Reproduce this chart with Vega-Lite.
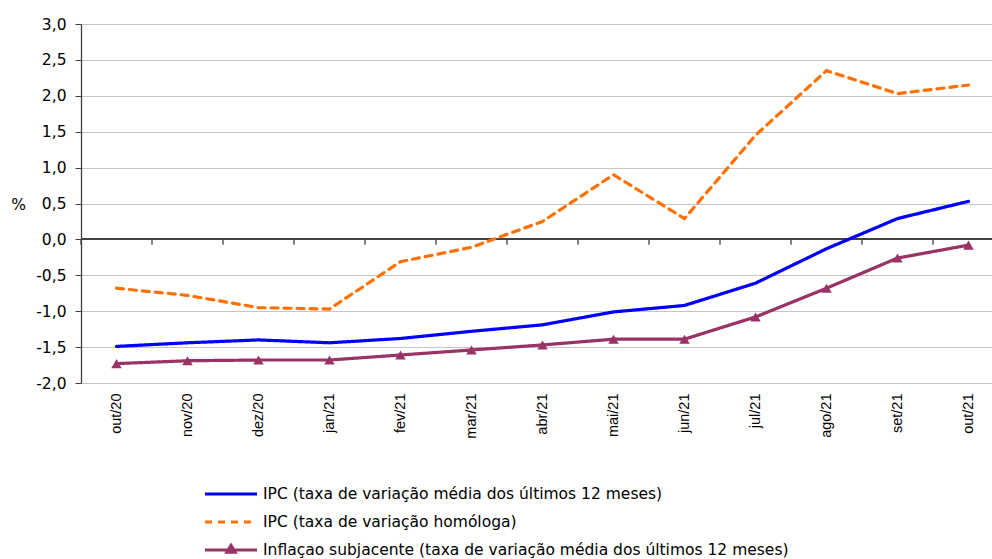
{
  "$schema": "https://vega.github.io/schema/vega-lite/v6.json",
  "autosize": {"type": "none"},
  "padding": {"left": 81, "top": 24, "right": 0, "bottom": 176},
  "width": 911,
  "height": 359,
  "background": "white",
  "config": {
    "font": "DejaVu Sans",
    "view": {"stroke": null},
    "locale": {"number": {"decimal": ",", "thousands": ".", "grouping": [3], "currency": ["", " €"], "minus": "-"}}
  },
  "data": {"values": [
    {"month": "out/20", "series": "IPC (taxa de variação média dos últimos 12 meses)", "value": -1.49},
    {"month": "nov/20", "series": "IPC (taxa de variação média dos últimos 12 meses)", "value": -1.44},
    {"month": "dez/20", "series": "IPC (taxa de variação média dos últimos 12 meses)", "value": -1.40},
    {"month": "jan/21", "series": "IPC (taxa de variação média dos últimos 12 meses)", "value": -1.44},
    {"month": "fev/21", "series": "IPC (taxa de variação média dos últimos 12 meses)", "value": -1.38},
    {"month": "mar/21", "series": "IPC (taxa de variação média dos últimos 12 meses)", "value": -1.28},
    {"month": "abr/21", "series": "IPC (taxa de variação média dos últimos 12 meses)", "value": -1.19},
    {"month": "mai/21", "series": "IPC (taxa de variação média dos últimos 12 meses)", "value": -1.01},
    {"month": "jun/21", "series": "IPC (taxa de variação média dos últimos 12 meses)", "value": -0.92},
    {"month": "jul/21", "series": "IPC (taxa de variação média dos últimos 12 meses)", "value": -0.61},
    {"month": "ago/21", "series": "IPC (taxa de variação média dos últimos 12 meses)", "value": -0.13},
    {"month": "set/21", "series": "IPC (taxa de variação média dos últimos 12 meses)", "value": 0.29},
    {"month": "out/21", "series": "IPC (taxa de variação média dos últimos 12 meses)", "value": 0.53},
    {"month": "out/20", "series": "IPC (taxa de variação homóloga)", "value": -0.68},
    {"month": "nov/20", "series": "IPC (taxa de variação homóloga)", "value": -0.78},
    {"month": "dez/20", "series": "IPC (taxa de variação homóloga)", "value": -0.95},
    {"month": "jan/21", "series": "IPC (taxa de variação homóloga)", "value": -0.97},
    {"month": "fev/21", "series": "IPC (taxa de variação homóloga)", "value": -0.31},
    {"month": "mar/21", "series": "IPC (taxa de variação homóloga)", "value": -0.11},
    {"month": "abr/21", "series": "IPC (taxa de variação homóloga)", "value": 0.25},
    {"month": "mai/21", "series": "IPC (taxa de variação homóloga)", "value": 0.90},
    {"month": "jun/21", "series": "IPC (taxa de variação homóloga)", "value": 0.29},
    {"month": "jul/21", "series": "IPC (taxa de variação homóloga)", "value": 1.45},
    {"month": "ago/21", "series": "IPC (taxa de variação homóloga)", "value": 2.35},
    {"month": "set/21", "series": "IPC (taxa de variação homóloga)", "value": 2.03},
    {"month": "out/21", "series": "IPC (taxa de variação homóloga)", "value": 2.15},
    {"month": "out/20", "series": "Inflaçao subjacente (taxa de variação média dos últimos 12 meses)", "value": -1.73},
    {"month": "nov/20", "series": "Inflaçao subjacente (taxa de variação média dos últimos 12 meses)", "value": -1.69},
    {"month": "dez/20", "series": "Inflaçao subjacente (taxa de variação média dos últimos 12 meses)", "value": -1.68},
    {"month": "jan/21", "series": "Inflaçao subjacente (taxa de variação média dos últimos 12 meses)", "value": -1.68},
    {"month": "fev/21", "series": "Inflaçao subjacente (taxa de variação média dos últimos 12 meses)", "value": -1.61},
    {"month": "mar/21", "series": "Inflaçao subjacente (taxa de variação média dos últimos 12 meses)", "value": -1.54},
    {"month": "abr/21", "series": "Inflaçao subjacente (taxa de variação média dos últimos 12 meses)", "value": -1.47},
    {"month": "mai/21", "series": "Inflaçao subjacente (taxa de variação média dos últimos 12 meses)", "value": -1.39},
    {"month": "jun/21", "series": "Inflaçao subjacente (taxa de variação média dos últimos 12 meses)", "value": -1.39},
    {"month": "jul/21", "series": "Inflaçao subjacente (taxa de variação média dos últimos 12 meses)", "value": -1.08},
    {"month": "ago/21", "series": "Inflaçao subjacente (taxa de variação média dos últimos 12 meses)", "value": -0.68},
    {"month": "set/21", "series": "Inflaçao subjacente (taxa de variação média dos últimos 12 meses)", "value": -0.26},
    {"month": "out/21", "series": "Inflaçao subjacente (taxa de variação média dos últimos 12 meses)", "value": -0.08}
  ]},
  "layer": [
    {
      "mark": {"type": "rule", "color": "#404040", "strokeWidth": 1.3},
      "encoding": {"y": {"datum": 0, "type": "quantitative",
        "scale": {"domain": [-2, 3], "nice": false, "zero": false},
        "axis": {"title": "%", "titleAngle": 0, "titleFontSize": 15.5, "titleFontWeight": "normal", "titleColor": "#000000", "titleX": -63, "titleY": 180, "titleAlign": "center", "titleBaseline": "middle",
          "values": [-2, -1.5, -1, -0.5, 0, 0.5, 1, 1.5, 2, 2.5, 3], "tickCount": 30, "format": ".1f", "labelFontSize": 15.5, "labelColor": "#000000", "labelPadding": 9, "labelOverlap": false, "tickSize": 6, "tickColor": "#404040", "domainColor": "#404040", "domainWidth": 1.3,
          "grid": true, "gridColor": "#8a8a8a", "gridDash": [1, 1], "gridWidth": 1}}}
    },
    {
      "transform": [{"filter": "datum.series === 'IPC (taxa de variação homóloga)'"}],
      "mark": {"type": "rule", "color": "#404040", "strokeWidth": 1.3},
      "encoding": {
        "x": {"field": "month", "type": "ordinal", "bandPosition": 0},
        "y": {"datum": 0, "type": "quantitative"},
        "y2": {"datum": -0.075}
      }
    },
    {
      "mark": {"type": "line", "strokeWidth": 3.2, "strokeCap": "round"},
      "encoding": {
        "x": {
          "field": "month", "type": "ordinal",
          "scale": {"type": "band", "domain": ["out/20","nov/20","dez/20","jan/21","fev/21","mar/21","abr/21","mai/21","jun/21","jul/21","ago/21","set/21","out/21"], "range": [0, 923], "paddingInner": 0, "paddingOuter": 0},
          "axis": {"title": null, "labelAngle": -90, "labelFont": "Liberation Sans", "labelFontSize": 14.5, "labelColor": "#000000", "labelPadding": 10, "ticks": false, "tickSize": 0, "domain": false, "grid": false, "labelAlign": "right", "labelBaseline": "middle"}
        },
        "y": {
          "field": "value", "type": "quantitative"
        },
        "color": {
          "field": "series", "type": "nominal",
          "scale": {"domain": ["IPC (taxa de variação média dos últimos 12 meses)", "IPC (taxa de variação homóloga)", "Inflaçao subjacente (taxa de variação média dos últimos 12 meses)"], "range": ["#0000FF", "#FF7000", "#993366"]},
          "legend": {
            "title": null, "orient": "none", "legendX": 138, "legendY": 458, "direction": "vertical",
            "symbolType": "M-2.6,0H2.6", "symbolSize": 400, "symbolStrokeWidth": 3.2, "labelFontSize": 15.5, "labelColor": "#000000", "labelOffset": 20, "labelLimit": 800, "rowPadding": 7, "padding": 0,
            "encode": {"symbols": {"update": {
              "shape": {"signal": "indexof(datum.label, 'Infla') === 0 ? 'M-2.6,0H2.6M-0.4,0.22L0,-0.45L0.4,0.22Z' : 'M-2.6,0H2.6'"},
              "fill": {"signal": "indexof(datum.label, 'Infla') === 0 ? '#993366' : 'transparent'"}
            }}}
          }
        },
        "strokeDash": {
          "field": "series", "type": "nominal",
          "scale": {"domain": ["IPC (taxa de variação média dos últimos 12 meses)", "IPC (taxa de variação homóloga)", "Inflaçao subjacente (taxa de variação média dos últimos 12 meses)"], "range": [[1, 0], [7, 6], [1, 0]]}
        }
      }
    },
    {
      "transform": [{"filter": "indexof(datum.series, 'Infla') === 0"}],
      "mark": {"type": "point", "shape": "triangle-up", "filled": true, "size": 110, "color": "#993366", "opacity": 1},
      "encoding": {
        "x": {"field": "month", "type": "ordinal"},
        "y": {"field": "value", "type": "quantitative"}
      }
    }
  ]
}
